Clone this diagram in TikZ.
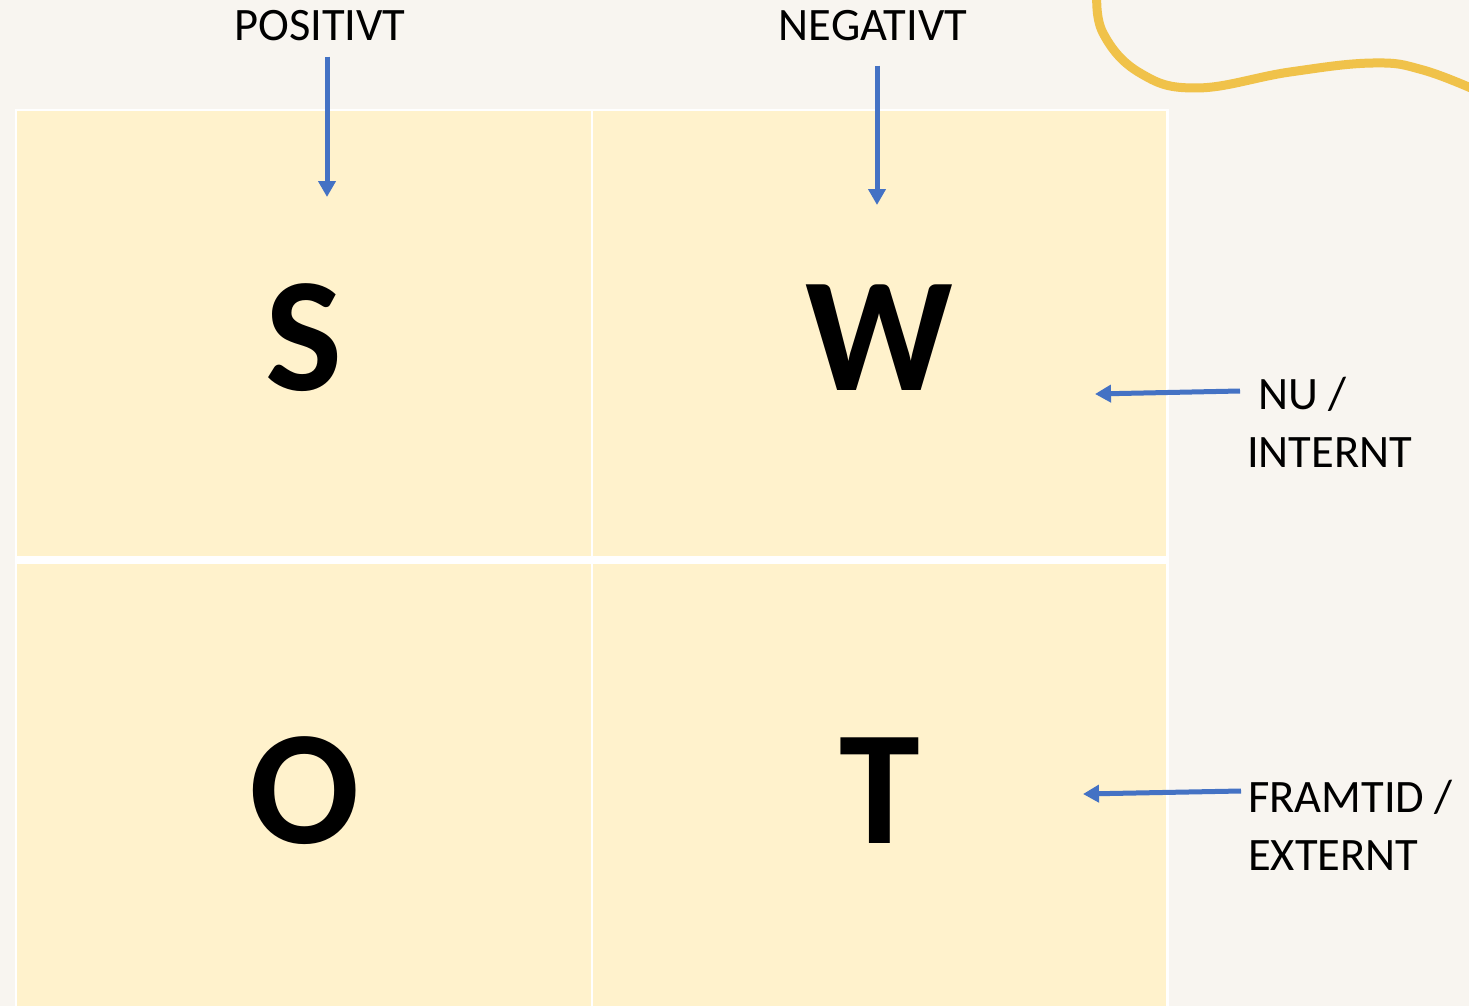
\documentclass[tikz,border=0pt]{standalone}
\usepackage{fontspec}
\setmainfont{Carlito}
\usetikzlibrary{arrows.meta,positioning}
\definecolor{paper}{HTML}{F8F5F0}
\definecolor{cream}{HTML}{FFF2CC}
\definecolor{office}{HTML}{4472C4}
\definecolor{mustard}{HTML}{F0C24A}
\tikzset{
  cellbox/.style={
    rectangle, fill=cream, anchor=north west, inner sep=0pt,
    minimum width=#1, minimum height=445pt,
    font=\fontsize{163}{163}\selectfont\bfseries,
    text height=113pt, text depth=0pt
  },
  cellbox/.default=574pt,
  toplabel/.style={
    font=\fontsize{46.5}{56}\selectfont, anchor=base, inner sep=15pt
  },
  sidelabel/.style={
    font=\fontsize{46.5}{58}\selectfont, align=left,
    anchor=base west, inner sep=7pt
  },
  bluearrow/.style={
    -{Triangle[length=16pt,width=17pt]}, line width=5pt, color=office
  },
}

\begin{document}
\begin{tikzpicture}[x=1pt, y=-1pt]
  \useasboundingbox (0,0) rectangle (1469,1006);
  \fill[paper] (0,0) rectangle (1469,1006);
  % wavy line in the corner
  \draw[mustard, line width=9pt] plot[smooth, tension=0.7] coordinates
    {(1097,-8) (1103,33) (1140,73) (1197,88) (1290,72) (1373,63) (1423,70) (1480,92)};
  % the four quadrants
  \fill[white] (15,109) rectangle (1169,1010);
  \node[cellbox] (sCell) at (17,111) {S};
  \node[cellbox=573pt] (wCell) at (593,111) {W};
  \node[cellbox, minimum height=447pt] (oCell) at (17,563.5) {O};
  \node[cellbox=573pt, minimum height=447pt] (tCell) at (593,563.5) {T};
  % headings and side notes
  \node[toplabel] (positivt) at (320,41) {POSITIVT};
  \node[toplabel] (negativt) at (873,41) {NEGATIVT};
  \node[sidelabel] (nuLabel) at (1240,467) {\hspace*{11pt}NU /\\INTERNT};
  \node[sidelabel] (framtidLabel) at (1241,870) {FRAMTID /\\EXTERNT};
  \coordinate (posTip) at (327,197);
  \coordinate (negTip) at (877,205);
  \coordinate (nuTip) at (1095,394);
  \coordinate (framtidTip) at (1083,794);
  \draw[bluearrow] ([xshift=7pt]positivt.south) -- (posTip);
  \draw[bluearrow] ([shift={(4pt,-9pt)}]negativt.south) -- (negTip);
  \draw[bluearrow] ([yshift=76pt]nuLabel.base west) -- (nuTip);
  \draw[bluearrow] ([yshift=79pt]framtidLabel.base west) -- (framtidTip);
\end{tikzpicture}
\end{document}
